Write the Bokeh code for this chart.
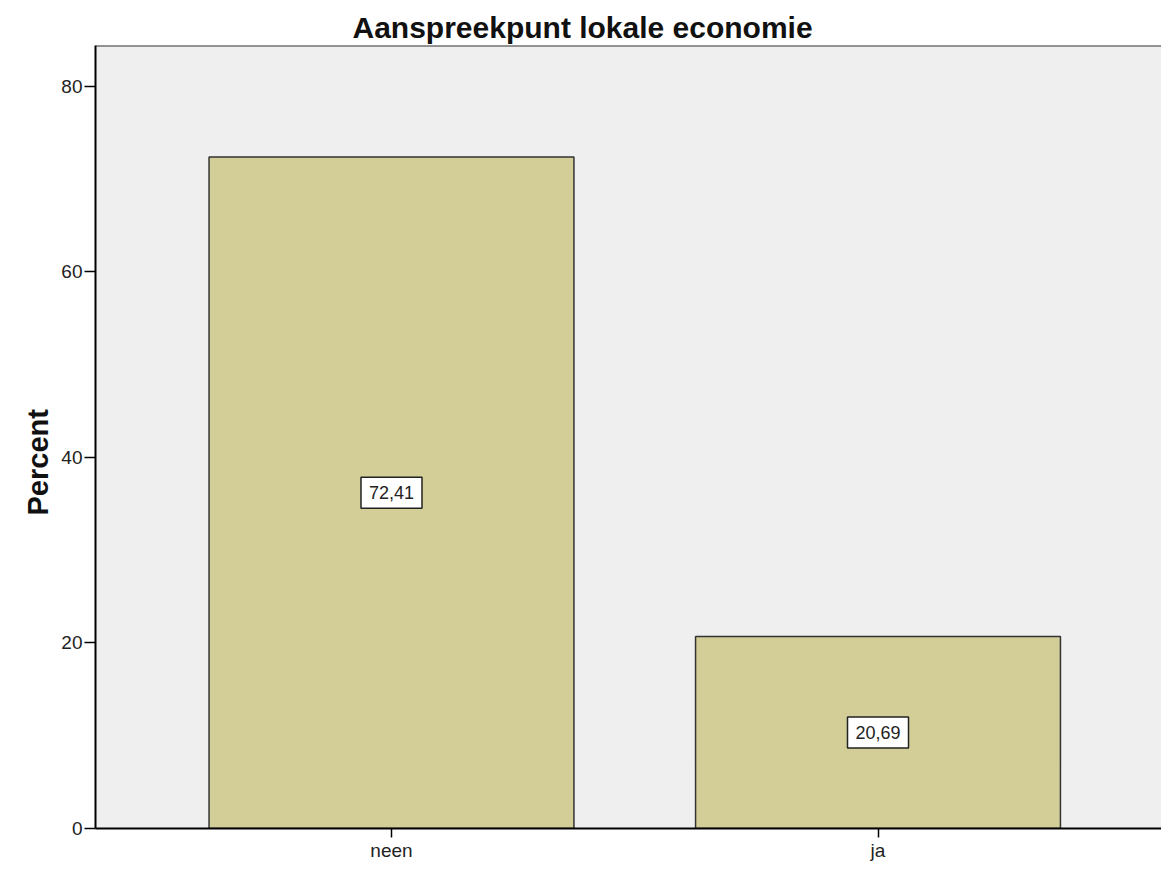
from bokeh.plotting import figure
from bokeh.models import (Range1d, FixedTicker, ColumnDataSource, Span, Title)
from bokeh.core.properties import value
from bokeh.embed import file_html
from bokeh.resources import INLINE

# ---- data ----
categories = ["neen", "ja"]
percent = [72.41, 20.69]
title_text = "Aanspreekpunt lokale economie"
y_label = "Percent"
y_ticks = [0, 20, 40, 60, 80]

FONT = "Liberation Sans"
Y_MAX = 84.42

xs = list(range(len(categories)))
src = ColumnDataSource(dict(
    x=xs,
    top=percent,
    mid=[v / 2 for v in percent],
    txt=[f"{v:.2f}".replace(".", ",") for v in percent],
))

p = figure(width=1161, height=863, output_backend="svg", toolbar_location=None,
           x_range=Range1d(-0.6084, 1.5827), y_range=Range1d(0, Y_MAX),
           min_border_left=95, min_border_top=45, min_border_bottom=35, min_border_right=0)

p.background_fill_color = "#EFEFEF"
p.border_fill_color = "white"
p.outline_line_color = None
p.xgrid.visible = False
p.ygrid.visible = False

p.vbar(x="x", top="top", width=0.75, source=src, fill_color="#D3CE97",
       line_color="#333333", line_width=1.5)

# value label boxes
p.rect(x="x", y="mid", width=61, height=31, width_units="screen", height_units="screen",
       source=src, fill_color="white", line_color="#222222", line_width=1.5)
p.text(x="x", y="mid", text="txt", source=src, text_align="center",
       text_baseline="middle", text_font=value(FONT), text_font_size="18px",
       text_color="#222222")

p.add_layout(Span(location=Y_MAX, dimension="width", line_color="#333333", line_width=2))

# axes
for ax in (p.xaxis[0], p.yaxis[0]):
    ax.axis_line_color = "black"
    ax.axis_line_width = 2
    ax.major_tick_line_color = "black"
    ax.major_tick_line_width = 1.5
    ax.major_tick_in = 0
    ax.minor_tick_line_color = None
    ax.major_label_text_font = FONT
    ax.major_label_text_font_size = "19px"
    ax.major_label_text_color = "#222222"

p.yaxis[0].ticker = FixedTicker(ticks=y_ticks)
p.yaxis[0].major_tick_out = 11
p.yaxis[0].major_label_standoff = 2
p.xaxis[0].ticker = FixedTicker(ticks=xs)
p.xaxis[0].major_label_overrides = {i: c for i, c in enumerate(categories)}
p.xaxis[0].major_tick_out = 9
p.xaxis[0].major_label_standoff = 2

p.title.text = title_text
p.title.text_font = FONT
p.title.text_font_size = "30px"
p.title.text_font_style = "bold"
p.title.text_color = "#111111"
p.title.align = "left"
p.title.offset = 257
p.title.standoff = 4

p.add_layout(Title(text=y_label, align="left", offset=313, text_font=FONT,
                   text_font_size="29px", text_font_style="bold",
                   text_color="#111111"), "left")

open("out.html", "w").write(file_html(p, INLINE))
